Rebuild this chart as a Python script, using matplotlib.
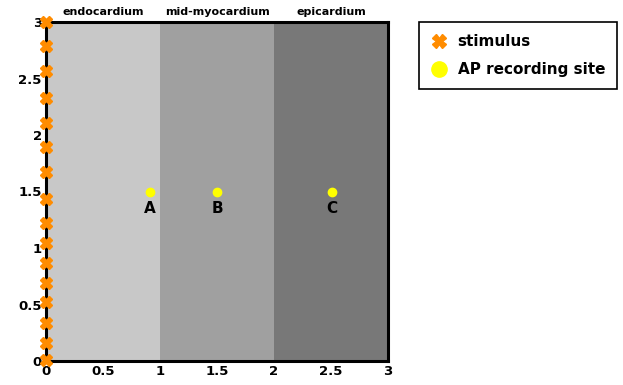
import numpy as np
import matplotlib.pyplot as plt

# tissue layers (x ranges) and their shades
layer_names = ['endocardium', 'mid-myocardium', 'epicardium']
layer_start = [0, 1, 2]
layer_end = [1, 2, 3]
layer_colors = ['#c8c8c8', '#a0a0a0', '#787878']

# stimulus points along the left edge
stim_y = [3.0, 2.79, 2.57, 2.33, 2.11, 1.89, 1.67, 1.43, 1.22, 1.04,
          0.87, 0.69, 0.52, 0.34, 0.16, 0.01]
stim_x = [0.0] * len(stim_y)

# AP recording sites
site_names = ['A', 'B', 'C']
site_x = [0.91, 1.5, 2.51]
site_y = [1.5, 1.5, 1.5]

ticks = [0, 0.5, 1, 1.5, 2, 2.5, 3]
tick_labels = ['0', '0.5', '1', '1.5', '2', '2.5', '3']

fig = plt.figure(figsize=(6.23, 3.85), dpi=100)
ax = fig.add_axes([46/623, 24/385, 342/623, 339/385])

for name, x0, x1, c in zip(layer_names, layer_start, layer_end, layer_colors):
    ax.axvspan(x0, x1, color=c, lw=0, zorder=0)
    ax.text((x0 + x1) / 2, 3.04, name, ha='center', va='bottom',
            fontsize=8, fontweight='bold')

ax.plot(stim_x, stim_y, 'X', color='#ff8c00', markersize=9, ls='none',
        clip_on=False, zorder=5, label='stimulus')
ax.plot(site_x, site_y, 'o', color='#ffff00', markersize=6, ls='none',
        zorder=5, label='AP recording site')
for name, x, y in zip(site_names, site_x, site_y):
    ax.text(x, y - 0.08, name, ha='center', va='top', fontsize=11,
            fontweight='bold')

ax.set_xlim(0, 3)
ax.set_ylim(0, 3)
ax.set_xticks(ticks)
ax.set_xticklabels(tick_labels, fontweight='bold', fontsize=9.5)
ax.set_yticks(ticks)
ax.set_yticklabels(tick_labels, fontweight='bold', fontsize=9.5)
ax.tick_params(length=0, pad=3)
for s in ax.spines.values():
    s.set_linewidth(2.2)

leg = ax.legend(loc='upper left', bbox_to_anchor=(1.09, 1.0),
                prop={'weight': 'bold', 'size': 11}, fancybox=False,
                edgecolor='black', framealpha=1, handletextpad=0.75,
                handlelength=1.0, borderpad=0.8, labelspacing=0.85,
                borderaxespad=0)
leg.get_frame().set_linewidth(1.2)
leg.legend_handles[0].set_markersize(10)
leg.legend_handles[1].set_markersize(11)

fig.savefig('out.png', dpi=100)
